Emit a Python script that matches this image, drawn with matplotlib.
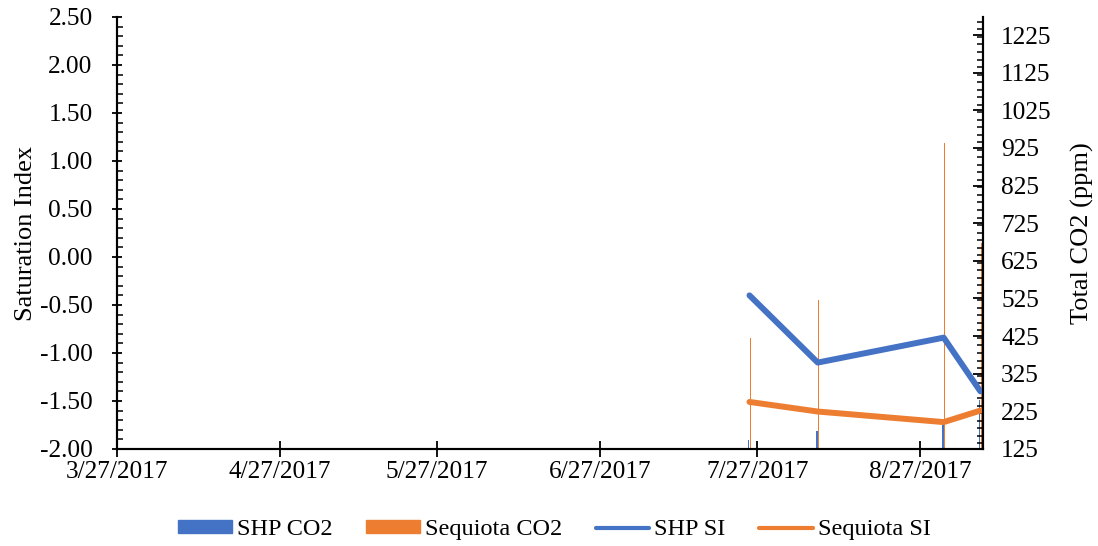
import numpy as npy
import pandas as pd
import matplotlib
matplotlib.use('Agg')
import matplotlib.pyplot as plt
import matplotlib.dates as mdates
from matplotlib.lines import Line2D
from matplotlib.patches import Patch
from matplotlib.ticker import MultipleLocator, FormatStrFormatter

plt.rcParams['font.family'] = ['Liberation Serif', 'DejaVu Serif']

###############################################################
# sampling dates and values
dates = ['2017-07-25', '2017-08-07', '2017-08-31', '2017-09-07']
shp_co2 = [149, 173, 191, 255]
seq_co2 = [420, 521, 937, 672]
shp_si = [-0.40, -1.10, -0.84, -1.40]
seq_si = [-1.51, -1.61, -1.72, -1.60]

tick_dates = ['2017-03-27', '2017-04-27', '2017-05-27', '2017-06-27',
              '2017-07-27', '2017-08-27']

blue = '#4472C4'
orange = '#ED7D31'
fs = 18.3
fs_lab = 19

# excel puts the points in the middle of the day
x = mdates.date2num(pd.to_datetime(dates)) + 0.5

fig = plt.figure(figsize=(10.98, 5.46), dpi=100)
ax1 = fig.add_axes([0.1066, 0.1777, 0.7887, 0.7912])
ax2 = ax1.twinx()

ax2.bar(x - 0.17, shp_co2, width=0.3, color=blue)
ax2.bar(x + 0.17, seq_co2, width=0.3, color=orange)
ax1.plot(x, shp_si, color=blue, lw=4.3, solid_capstyle='round')
ax1.plot(x, seq_si, color=orange, lw=4.3, solid_capstyle='round')

# lines above the bars
ax1.set_zorder(ax2.get_zorder() + 1)
ax1.patch.set_visible(False)

ax1.set_xlim(mdates.date2num(pd.Timestamp('2017-03-27')),
             mdates.date2num(pd.Timestamp('2017-09-08')))
ax1.set_ylim(-2.0, 2.5)
ax2.set_ylim(125, 1273)

ax1.set_xticks(mdates.date2num(pd.to_datetime(tick_dates)))
ax1.set_xticklabels([d.strftime('%-m/%-d/%Y') for d in pd.to_datetime(tick_dates)],
                    fontsize=fs)
ax1.yaxis.set_major_locator(MultipleLocator(0.5))
ax1.yaxis.set_minor_locator(MultipleLocator(0.1))
ax1.yaxis.set_major_formatter(FormatStrFormatter('%.2f'))
ax2.set_yticks(npy.arange(125, 1226, 100))
ax2.yaxis.set_minor_locator(MultipleLocator(20))

ax1.tick_params(axis='x', which='major', direction='inout', length=12, width=1.3,
                pad=3, labelsize=fs)
ax1.tick_params(axis='y', which='major', direction='inout', length=7, width=1.3,
                labelsize=fs, pad=14)
ax1.tick_params(axis='y', which='minor', direction='in', length=4, width=1.1)
ax2.tick_params(axis='y', which='major', direction='in', length=7, width=1.3,
                labelsize=fs, pad=13)
ax2.tick_params(axis='y', which='minor', direction='in', length=4, width=1.1)

for a in (ax1, ax2):
    a.spines['top'].set_visible(False)
    for s in ('left', 'right', 'bottom'):
        a.spines[s].set_linewidth(1.5)

ax1.set_ylabel('Saturation Index', fontsize=fs_lab, labelpad=2)
ax2.set_ylabel('Total CO2 (ppm)', fontsize=fs_lab, labelpad=14)

handles = [Patch(color=blue), Patch(color=orange),
           Line2D([], [], color=blue, lw=3, solid_capstyle='round'),
           Line2D([], [], color=orange, lw=3, solid_capstyle='round')]
labels = ['SHP CO2', 'Sequiota CO2', 'SHP SI', 'Sequiota SI']
fig.legend(handles, labels, loc='center', bbox_to_anchor=(0.505, 0.03), ncol=4,
           frameon=False, fontsize=17.5, handlelength=2.2, handleheight=0.45,
           handletextpad=0.2, columnspacing=1.4)

fig.savefig('out.png', dpi=100)
